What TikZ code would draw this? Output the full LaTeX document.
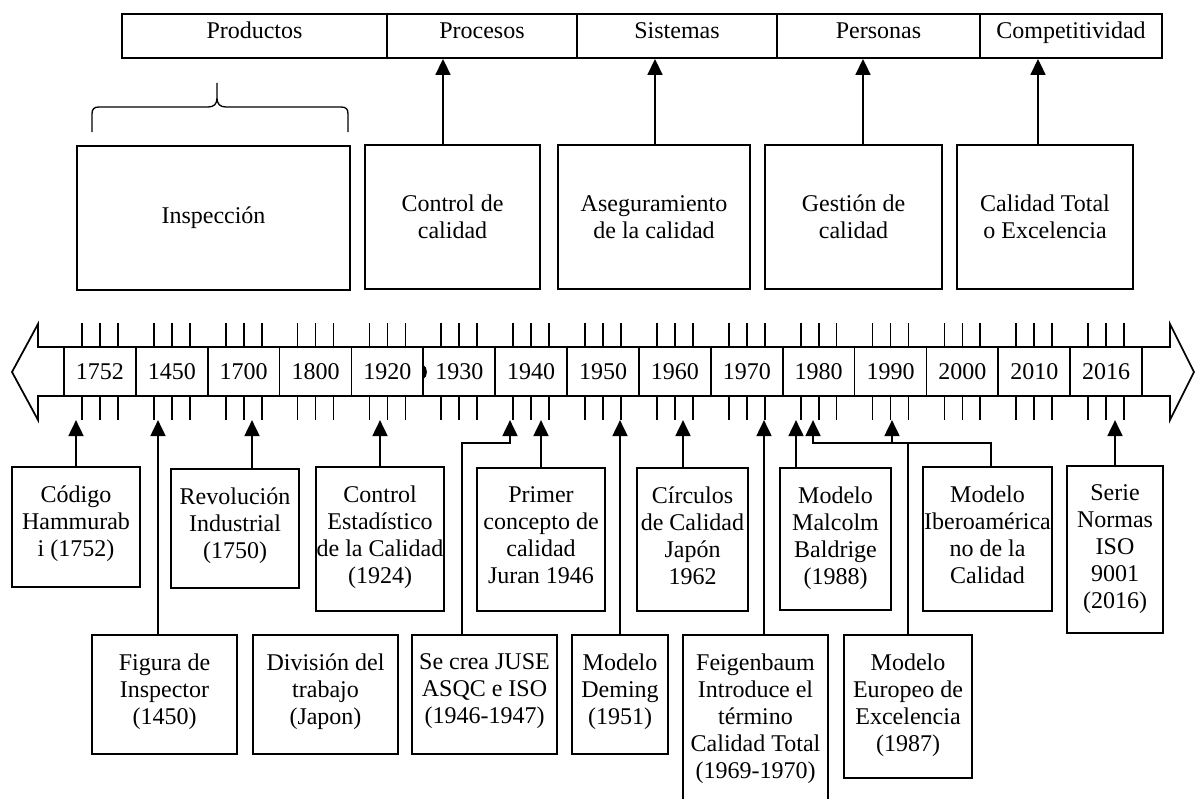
\documentclass[tikz,border=0pt]{standalone}
\usepackage{fontspec}
\setmainfont{Liberation Serif}
\usetikzlibrary{arrows.meta,fit,calc}
\begin{document}
\begin{tikzpicture}[x=0.75pt,y=-0.75pt,
  font=\fontsize{18pt}{20.25pt}\selectfont,
  ln/.style={line width=1.3pt, line join=miter},
  cell/.style={draw, line width=1.3pt, inner sep=0pt},
  ebox/.style={draw, line width=1.3pt, inner sep=0pt},
  ubox/.style={draw, line width=1.3pt, inner sep=0pt, align=center, minimum height=108pt},
  btext/.style={align=center, inner sep=0pt, anchor=north},
  ttext/.style={inner sep=0pt, anchor=base},
  arr/.style={line width=2pt, line join=miter, -{Triangle[width=11pt,length=12pt]}},
  tickmark/.style={line width=1.3pt}]
\useasboundingbox (0,0) rectangle (1195,799);
\fill[white] (0,0) rectangle (1195,799);
\clip (0,0) rectangle (1195,799);

% top bar
\node[cell, fit={(122,14) (387,58)}] (c1) {};
\node[cell, fit={(387,14) (577,58)}] (c2) {};
\node[cell, fit={(577,14) (777,58)}] (c3) {};
\node[cell, fit={(777,14) (980,58)}] (c4) {};
\node[cell, fit={(980,14) (1162,58)}] (c5) {};
\node[ttext] (tc1) at (c1.center |- 0,39) {Productos};
\node[ttext] (tc2) at (c2.center |- 0,39) {Procesos};
\node[ttext] (tc3) at (c3.center |- 0,39) {Sistemas};
\node[ttext] (tc4) at (c4.center |- 0,39) {Personas};
\node[ttext] (tc5) at (c5.center |- 0,39) {Competitividad};

% brace
\draw[line width=1pt] (92,132) -- (92,114) .. controls (92,109) and (94,107) .. (99,107)
  -- (208,107) .. controls (214,107) and (217,104) .. (217,98) -- (217,83)
  (217,98) .. controls (217,104) and (220,107) .. (226,107)
  -- (341,107) .. controls (346,107) and (348,109) .. (348,114) -- (348,132);

% upper boxes
\node[ubox, minimum width=204.75pt] (u1) at (213.5,218) {Inspección};
\node[ubox, minimum width=131.25pt] (u2) at (452.5,217) {Control de\\calidad};
\node[ubox, minimum width=144pt] (u3) at (654,217) {Aseguramiento\\de la calidad};
\node[ubox, minimum width=132.75pt] (u4) at (853.5,217) {Gestión de\\calidad};
\node[ubox, minimum width=132pt] (u5) at (1045,217) {Calidad Total\\o Excelencia};

\draw[arr] (443,0 |- u2.north) -- (443,0 |- c2.south);
\draw[arr] (655,0 |- u3.north) -- (655,0 |- c3.south);
\draw[arr] (863,0 |- u4.north) -- (863,0 |- c4.south);
\draw[arr] (1038,0 |- u5.north) -- (1038,0 |- c5.south);

% timeline arrow
\draw[ln] (12,372) -- (38,324) -- (38,347) -- (1170,347) -- (1170,324) -- (1194,372)
  -- (1170,420) -- (1170,396) -- (38,396) -- (38,420) -- cycle;
\foreach \yr [count=\i from 0] in {1752,1450,1700,1800,1920,1930,1940,1950,1960,1970,1980,1990,2000,2010,2016}{
  \pgfmathsetmacro\L{64+71.87*\i}
  \node[cell, minimum width=53.9pt, minimum height=36.75pt] (yr\i) at (\L+35.935,371.5) {\yr};
  \foreach \k in {1,2,3}{
    \draw[tickmark] (\L+17.97*\k,323) -- (\L+17.97*\k,347);
    \draw[tickmark] (\L+17.97*\k,396) -- (\L+17.97*\k,420);
  }
}
\fill (423.5,365) .. controls (428,367) and (428,377) .. (423.5,379) -- cycle;
\coordinate (tl) at (0,420);
\coordinate (hl) at (0,443);

% bottom boxes
\node[ebox, fit={(12,467) (140,587)}] (b1) {};
\node[ebox, fit={(92,635) (237,754)}] (b2) {};
\node[ebox, fit={(171,469) (299,588)}] (b3) {};
\node[ebox, fit={(253,635) (398,754)}] (b4) {};
\node[ebox, fit={(316,467) (444,611)}] (b5) {};
\node[ebox, fit={(412,635) (557,754)}] (b6) {};
\node[ebox, fit={(477,468) (605,611)}] (b7) {};
\node[ebox, fit={(572,635) (668,754)}] (b8) {};
\node[ebox, fit={(637,468) (748,611)}] (b9) {};
\node[ebox, fit={(683,635) (828,830)}] (b10) {};
\node[ebox, fit={(780,468) (891,610)}] (b11) {};
\node[ebox, fit={(844,635) (972,778)}] (b12) {};
\node[ebox, fit={(923,467) (1052,611)}] (b13) {};
\node[ebox, fit={(1067,466) (1163,633)}] (b14) {};

\node[btext] (t1) at ($(b1.north)+(0,19)$) {Código\\Hammurab\\i (1752)};
\node[btext] (t2) at ($(b2.north)+(0,19)$) {Figura de\\Inspector\\(1450)};
\node[btext] (t3) at ($(b3.north)+(0,19)$) {Revolución\\Industrial\\(1750)};
\node[btext] (t4) at ($(b4.north)+(0,19)$) {División del\\trabajo\\(Japon)};
\node[btext] (t5) at ($(b5.north)+(0,19)$) {Control\\Estadístico\\de la Calidad\\(1924)};
\node[btext] (t6) at ($(b6.north)+(0,19)$) {Se crea JUSE\\ASQC e ISO\\(1946-1947)};
\node[btext] (t7) at ($(b7.north)+(0,19)$) {Primer\\concepto de\\calidad\\Juran 1946};
\node[btext] (t8) at ($(b8.north)+(0,19)$) {Modelo\\Deming\\(1951)};
\node[btext] (t9) at ($(b9.north)+(0,19)$) {Círculos\\de Calidad\\Japón\\1962};
\node[btext] (t10) at ($(b10.north)+(0,19)$) {Feigenbaum\\Introduce el\\término\\Calidad Total\\(1969-1970)};
\node[btext] (t11) at ($(b11.north)+(0,19)$) {Modelo\\Malcolm\\Baldrige\\(1988)};
\node[btext] (t12) at ($(b12.north)+(0,19)$) {Modelo\\Europeo de\\Excelencia\\(1987)};
\node[btext] (t13) at ($(b13.north)+(0,19)$) {Modelo\\Iberoamérica\\no de la\\Calidad};
\node[btext] (t14) at ($(b14.north)+(0,19)$) {Serie\\Normas\\ISO\\9001\\(2016)};

% connectors
\draw[arr] (76,0 |- b1.north) -- (76,0 |- tl);
\draw[arr] (158,0 |- b2.north) -- (158,0 |- tl);
\draw[arr] (252,0 |- b3.north) -- (252,0 |- tl);
\draw[arr] (380,0 |- b5.north) -- (380,0 |- tl);
\draw[arr] (462,0 |- b6.north) |- (510,0 |- hl) -- (510,0 |- tl);
\draw[arr] (541,0 |- b7.north) -- (541,0 |- tl);
\draw[arr] (620,0 |- b8.north) -- (620,0 |- tl);
\draw[arr] (683,0 |- b9.north) -- (683,0 |- tl);
\draw[arr] (764,0 |- b10.north) -- (764,0 |- tl);
\draw[arr] (796,0 |- b11.north) -- (796,0 |- tl);
\draw[arr] (991,0 |- b13.north) |- (813,0 |- hl) -- (813,0 |- tl);
\draw[arr] (908,0 |- b12.north) |- (892,0 |- hl) -- (892,0 |- tl);
\draw[arr] (1115,0 |- b14.north) -- (1115,0 |- tl);
\end{tikzpicture}
\end{document}
